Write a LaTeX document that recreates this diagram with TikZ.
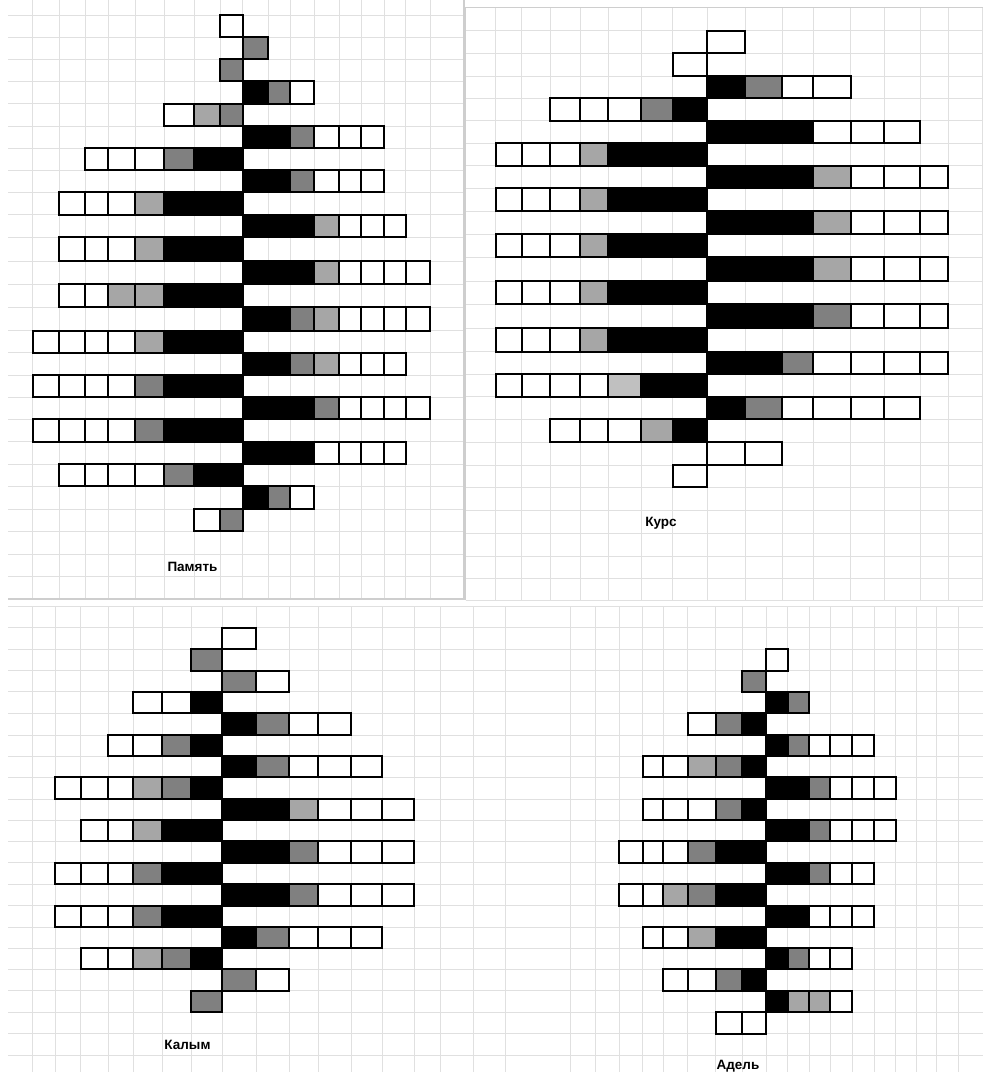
\documentclass[tikz,border=0pt]{standalone}
\usepackage{fontspec}
\newfontfamily\labelfont{Liberation Sans}

\definecolor{darkcell}{HTML}{808080}
\definecolor{lightcell}{HTML}{A6A6A6}
\definecolor{palecell}{HTML}{C0C0C0}
\definecolor{gridgray}{HTML}{E0E0E0}

% one bar of cells: grid prefix, row, first column, list of cell styles
\newcommand{\cellbar}[4]{%
  \foreach \f [count=\col from #3] in {#4} {
    \pgfmathtruncatemacro\nextcol{\col+1}
    \pgfmathtruncatemacro\nextrow{#2+1}
    \draw[\f] (#1c\col |- #1r#2) rectangle (#1c\nextcol |- #1r\nextrow);
  }}

\begin{document}
\begin{tikzpicture}[x=1pt, y=-1pt,
    gridline/.style={draw=gridgray, line width=1pt},
    frameline/.style={draw=gridgray!92!black, line width=1.5pt},
    wh/.style={draw=black, line width=1.8pt, fill=white},
    dg/.style={wh, fill=darkcell},
    lg/.style={wh, fill=lightcell},
    pg/.style={wh, fill=palecell},
    bk/.style={wh, fill=black},
    title/.style={font=\labelfont\bfseries\fontsize{13.5}{16}\selectfont}]

            \useasboundingbox (0,0) rectangle (983,1072);
            \fill[white] (0,0) rectangle (983,1072);

            % Draw grid, top left
            \foreach \x [count=\i from 0] in {32.7,59.3,85,108.3,135,164.3,194.3,220,242.7,268.3,290,314.3,339,361,384.3,405.7,430} {
                \coordinate (mem-c\i) at (\x,0);
                \draw[gridline] (\x,0) -- (\x,599);
            }
            \foreach \y [count=\j from 0] in {15,37.3,59.3,81.3,103.7,126,148,170,192.3,214.7,237.3,261,284,307.3,330.7,352.7,375,397.3,419.3,441.7,464,486,509,531,554,576,599} {
                \coordinate (mem-r\j) at (0,\y);
                \draw[gridline] (8,\y) -- (464,\y);
            }
            \draw[frameline] (8,599) -- (464,599) -- (464,0);

            % Draw grid, top right
            \foreach \x [count=\i from 0] in {495.7,521.7,550,580,608.3,641,672.7,707.3,745,782.3,813.3,850.7,884.3,920,948.3,982.5} {
                \coordinate (kurs-c\i) at (\x,0);
                \draw[gridline] (\x,7.7) -- (\x,600);
            }
            \foreach \y [count=\j from 0] in {7.7,30.7,53.3,76,98.3,120.7,143.3,165.7,188.3,211,234,257.3,281,304,328.3,351.7,374,396.7,419.3,442.3,465,487.3,510,533.3,556,578.3,600} {
                \coordinate (kurs-r\j) at (0,\y);
                \draw[gridline] (465.7,\y) -- (983,\y);
            }
            \draw[frameline] (465.7,600) -- (465.7,7.7) -- (983,7.7);

            % Draw grid, bottom
            \foreach \x [count=\i from 0] in {32.3,55,80.7,108.3,133.3,162.3,191,222.3,256,289.3,318.3,351,382.3,414.3,440.7,473.3,505,570,595,619,642.7,663.3,687.7,715.7,742.3,766,787.7,809.3,830,852.3,874.3,895.7,916.7,936,958.3} {
                \coordinate (bot-c\i) at (\x,0);
                \draw[gridline] (\x,606.7) -- (\x,1072);
            }
            \foreach \y [count=\j from 0] in {606.7,627.7,649,670.7,691.7,713.3,735,756,777.3,799,820,841.3,862.7,884,905.7,927.3,948.3,969.3,990.7,1012.3,1033.7,1055} {
                \coordinate (bot-r\j) at (0,\y);
                \draw[gridline] (8,\y) -- (983,\y);
            }

            % Draw cells, Память
            \cellbar{mem-}{0}{7}{wh}
            \cellbar{mem-}{1}{8}{dg}
            \cellbar{mem-}{2}{7}{dg}
            \cellbar{mem-}{3}{8}{bk,dg,wh}
            \cellbar{mem-}{4}{5}{wh,lg,dg}
            \cellbar{mem-}{5}{8}{bk,bk,dg,wh,wh,wh}
            \cellbar{mem-}{6}{2}{wh,wh,wh,dg,bk,bk}
            \cellbar{mem-}{7}{8}{bk,bk,dg,wh,wh,wh}
            \cellbar{mem-}{8}{1}{wh,wh,wh,lg,bk,bk,bk}
            \cellbar{mem-}{9}{8}{bk,bk,bk,lg,wh,wh,wh}
            \cellbar{mem-}{10}{1}{wh,wh,wh,lg,bk,bk,bk}
            \cellbar{mem-}{11}{8}{bk,bk,bk,lg,wh,wh,wh,wh}
            \cellbar{mem-}{12}{1}{wh,wh,lg,lg,bk,bk,bk}
            \cellbar{mem-}{13}{8}{bk,bk,dg,lg,wh,wh,wh,wh}
            \cellbar{mem-}{14}{0}{wh,wh,wh,wh,lg,bk,bk,bk}
            \cellbar{mem-}{15}{8}{bk,bk,dg,lg,wh,wh,wh}
            \cellbar{mem-}{16}{0}{wh,wh,wh,wh,dg,bk,bk,bk}
            \cellbar{mem-}{17}{8}{bk,bk,bk,dg,wh,wh,wh,wh}
            \cellbar{mem-}{18}{0}{wh,wh,wh,wh,dg,bk,bk,bk}
            \cellbar{mem-}{19}{8}{bk,bk,bk,wh,wh,wh,wh}
            \cellbar{mem-}{20}{1}{wh,wh,wh,wh,dg,bk,bk}
            \cellbar{mem-}{21}{8}{bk,dg,wh}
            \cellbar{mem-}{22}{6}{wh,dg}
            \node[title] (mem-title) at (192.5,567) {Память};

            % Draw cells, Курс
            \cellbar{kurs-}{1}{7}{wh}
            \cellbar{kurs-}{2}{6}{wh}
            \cellbar{kurs-}{3}{7}{bk,dg,wh,wh}
            \cellbar{kurs-}{4}{2}{wh,wh,wh,dg,bk}
            \cellbar{kurs-}{5}{7}{bk,bk,bk,wh,wh,wh}
            \cellbar{kurs-}{6}{0}{wh,wh,wh,lg,bk,bk,bk}
            \cellbar{kurs-}{7}{7}{bk,bk,bk,lg,wh,wh,wh}
            \cellbar{kurs-}{8}{0}{wh,wh,wh,lg,bk,bk,bk}
            \cellbar{kurs-}{9}{7}{bk,bk,bk,lg,wh,wh,wh}
            \cellbar{kurs-}{10}{0}{wh,wh,wh,lg,bk,bk,bk}
            \cellbar{kurs-}{11}{7}{bk,bk,bk,lg,wh,wh,wh}
            \cellbar{kurs-}{12}{0}{wh,wh,wh,lg,bk,bk,bk}
            \cellbar{kurs-}{13}{7}{bk,bk,bk,dg,wh,wh,wh}
            \cellbar{kurs-}{14}{0}{wh,wh,wh,lg,bk,bk,bk}
            \cellbar{kurs-}{15}{7}{bk,bk,dg,wh,wh,wh,wh}
            \cellbar{kurs-}{16}{0}{wh,wh,wh,wh,pg,bk,bk}
            \cellbar{kurs-}{17}{7}{bk,dg,wh,wh,wh,wh}
            \cellbar{kurs-}{18}{2}{wh,wh,wh,lg,bk}
            \cellbar{kurs-}{19}{7}{wh,wh}
            \cellbar{kurs-}{20}{6}{wh}
            \node[title] (kurs-title) at (661,523) {Курс};

            % Draw cells, Калым
            \cellbar{bot-}{1}{7}{wh}
            \cellbar{bot-}{2}{6}{dg}
            \cellbar{bot-}{3}{7}{dg,wh}
            \cellbar{bot-}{4}{4}{wh,wh,bk}
            \cellbar{bot-}{5}{7}{bk,dg,wh,wh}
            \cellbar{bot-}{6}{3}{wh,wh,dg,bk}
            \cellbar{bot-}{7}{7}{bk,dg,wh,wh,wh}
            \cellbar{bot-}{8}{1}{wh,wh,wh,lg,dg,bk}
            \cellbar{bot-}{9}{7}{bk,bk,lg,wh,wh,wh}
            \cellbar{bot-}{10}{2}{wh,wh,lg,bk,bk}
            \cellbar{bot-}{11}{7}{bk,bk,dg,wh,wh,wh}
            \cellbar{bot-}{12}{1}{wh,wh,wh,dg,bk,bk}
            \cellbar{bot-}{13}{7}{bk,bk,dg,wh,wh,wh}
            \cellbar{bot-}{14}{1}{wh,wh,wh,dg,bk,bk}
            \cellbar{bot-}{15}{7}{bk,dg,wh,wh,wh}
            \cellbar{bot-}{16}{2}{wh,wh,lg,dg,bk}
            \cellbar{bot-}{17}{7}{dg,wh}
            \cellbar{bot-}{18}{6}{dg}
            \node[title] (kal-title) at (187.5,1045) {Калым};

            % Draw cells, Адель
            \cellbar{bot-}{2}{25}{wh}
            \cellbar{bot-}{3}{24}{dg}
            \cellbar{bot-}{4}{25}{bk,dg}
            \cellbar{bot-}{5}{22}{wh,dg,bk}
            \cellbar{bot-}{6}{25}{bk,dg,wh,wh,wh}
            \cellbar{bot-}{7}{20}{wh,wh,lg,dg,bk}
            \cellbar{bot-}{8}{25}{bk,bk,dg,wh,wh,wh}
            \cellbar{bot-}{9}{20}{wh,wh,wh,dg,bk}
            \cellbar{bot-}{10}{25}{bk,bk,dg,wh,wh,wh}
            \cellbar{bot-}{11}{19}{wh,wh,wh,dg,bk,bk}
            \cellbar{bot-}{12}{25}{bk,bk,dg,wh,wh}
            \cellbar{bot-}{13}{19}{wh,wh,lg,dg,bk,bk}
            \cellbar{bot-}{14}{25}{bk,bk,wh,wh,wh}
            \cellbar{bot-}{15}{20}{wh,wh,lg,bk,bk}
            \cellbar{bot-}{16}{25}{bk,dg,wh,wh}
            \cellbar{bot-}{17}{21}{wh,wh,dg,bk}
            \cellbar{bot-}{18}{25}{bk,lg,lg,wh}
            \cellbar{bot-}{19}{23}{wh,wh}
            \node[title] (adel-title) at (738,1066) {Адель};
        \end{tikzpicture}
\end{document}
